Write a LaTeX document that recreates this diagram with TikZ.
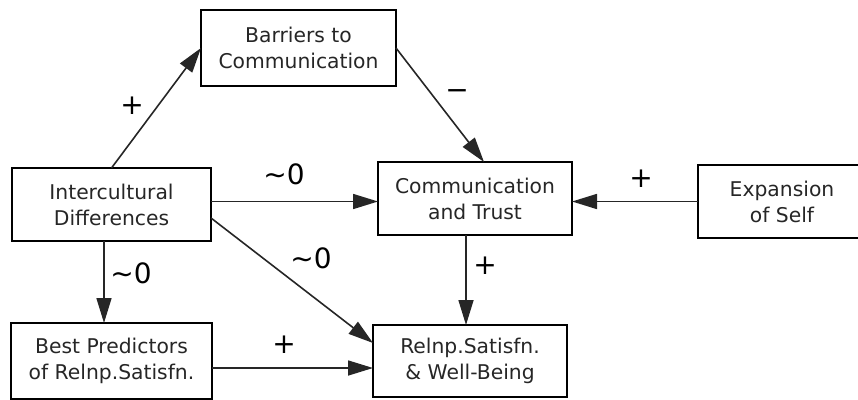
\documentclass[tikz,border=0pt]{standalone}
\usepackage{fontspec}
\setmainfont{DejaVu Sans}
\usetikzlibrary{arrows.meta}
\tikzset{
  box/.style={draw=black, line width=1.9pt, rectangle, inner sep=0pt, outer sep=0pt,
    align=center, text=black!85, font=\fontsize{20.3}{26}\selectfont},
  arr/.style={draw=black!85, line width=1.6pt, -{Triangle[length=25pt,width=15pt]}},
  lbl/.style={font=\fontsize{28}{30}\selectfont, text=black, inner sep=0pt}
}
\begin{document}
\begin{tikzpicture}[x=1pt,y=-1pt]
  \useasboundingbox (0,0) rectangle (858,399);
  \clip (0,0) rectangle (858,399);

  % boxes
  \node[box, minimum width=195pt, minimum height=76pt] (bar) at (298.5,48) {Barriers to\\Communication};
  \node[box, minimum width=199pt, minimum height=73pt] (ic) at (111.5,204.5) {Intercultural\\Differences};
  \node[box, minimum width=194pt, minimum height=73pt] (ct) at (475,198.5) {Communication\\and Trust};
  \node[box, minimum width=168pt, minimum height=73pt] (ex) at (782,201.5) {Expansion\\of Self};
  \node[box, minimum width=201pt, minimum height=76pt] (best) at (111.5,361) {Best Predictors\\of Relnp.Satisfn.};
  \node[box, minimum width=194pt, minimum height=72pt] (rel) at (470,361) {Relnp.Satisfn.\\\& Well-Being};

  % connectors
  \draw[arr] (ic.north) -- (bar.west);
  \draw[arr] (bar.east) -- ([xshift=9pt]ct.north);
  \draw[arr] (ic.east |- ex.west) -- (ct.west |- ex.west);
  \draw[arr] (ex.west) -- (ct.east |- ex.west);
  \draw[arr] ([yshift=-13.5pt]ic.east) -- ([yshift=18pt]rel.west);
  \draw[arr] ([xshift=-7.5pt]ic.south) coordinate (p1) -- (p1 |- best.north);
  \draw[arr] ([xshift=-9pt]ct.south) coordinate (p2) -- (p2 |- rel.north);
  \draw[arr] ([yshift=-7pt]best.east) coordinate (p3) -- (p3 -| rel.west);

  % signs
  \node[lbl] (s1) at (132,106) {+};
  \node[lbl] (s2) at (457,95) {−};
  \node[lbl] (s3) at (284,174) {\textasciitilde0};
  \node[lbl] (s4) at (641,179) {+};
  \node[lbl] (s5) at (311,258) {\textasciitilde0};
  \node[lbl] (s6) at (131,273) {\textasciitilde0};
  \node[lbl] (s7) at (485,266) {+};
  \node[lbl] (s8) at (284,345) {+};
\end{tikzpicture}
\end{document}
